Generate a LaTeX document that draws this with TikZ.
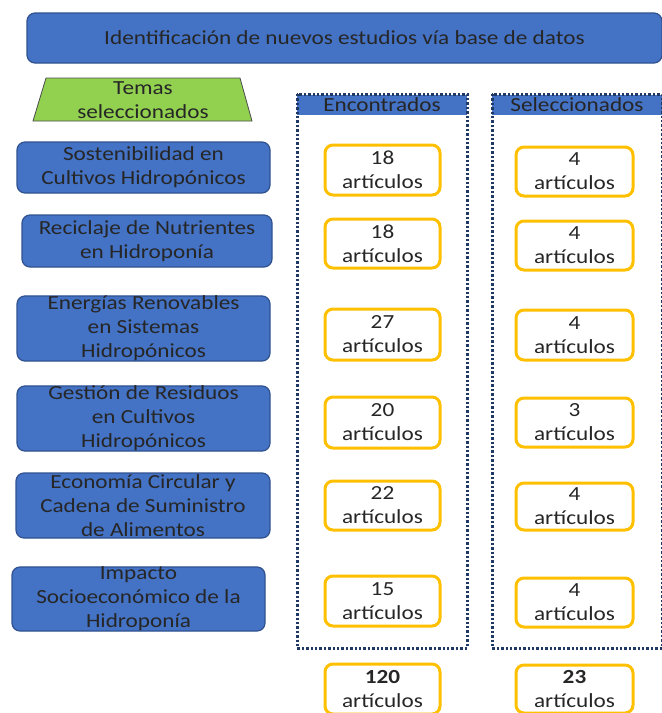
\documentclass[tikz,border=0pt]{standalone}
\usepackage{fontspec}
\setmainfont{Carlito}[FakeStretch=1.16]
\usetikzlibrary{shapes.geometric}
\definecolor{bl}{HTML}{4472C4}
\definecolor{bldk}{HTML}{2F528F}
\definecolor{gr}{HTML}{92D050}
\definecolor{yl}{HTML}{FFC000}
\definecolor{nv}{HTML}{1F3864}
\begin{document}
\begin{tikzpicture}[x=1pt,y=-1pt,
  txt/.style={font=\fontsize{20}{24}\selectfont, text=black!85, align=center},
  bluebox/.style={txt, draw=bldk, line width=1.2pt, fill=bl, rounded corners=8pt, inner sep=0pt},
  artbox/.style={txt, draw=yl, line width=3pt, fill=white, rounded corners=8pt, inner sep=0pt},
  frame/.style={draw=nv, line width=3pt, dash pattern=on 2.4pt off 2pt},
  head/.style={txt, fill=bl, inner sep=0pt}]
\useasboundingbox (0,0) rectangle (662,713);
% title
\node[bluebox, minimum width=635pt, minimum height=50pt] (title) at (344.5,38) {Identificación de nuevos estudios vía base de datos};
% trapezoid
\draw[fill=gr, draw=black!70, line width=0.8pt] (46,78) -- (240,78) -- (252,121) -- (33,121) -- cycle;
\node[txt] (temas) at (143,100) {Temas\\seleccionados};
% frames
\node[head, minimum width=170pt, minimum height=20pt] (henc) at (382,105) {Encontrados};
\node[head, minimum width=170pt, minimum height=20pt] (hsel) at (577,105) {Seleccionados};
\draw[frame] (297,94) rectangle (467,648);
\draw[frame] (492,94) rectangle (662,648);
% left boxes
\node[bluebox, minimum width=253pt, minimum height=51pt] (t1) at (143.5,167.5) {Sostenibilidad en\\Cultivos Hidropónicos};
\node[bluebox, minimum width=250pt, minimum height=52pt] (t2) at (147,241) {Reciclaje de Nutrientes\\en Hidroponía};
\node[bluebox, minimum width=253pt, minimum height=63pt] (t3) at (143.5,328.5) {Energías Renovables\\en Sistemas\\Hidropónicos};
\node[bluebox, minimum width=253pt, minimum height=63pt] (t4) at (143.5,418.5) {Gestión de Residuos\\en Cultivos\\Hidropónicos};
\node[bluebox, minimum width=254pt, minimum height=65pt] (t5) at (143,505.5) {Economía Circular y\\Cadena de Suministro\\de Alimentos};
\node[bluebox, minimum width=253pt, minimum height=64pt] (t6) at (138.5,599) {Impacto\\Socioeconómico de la\\Hidroponía};
% encontrados
\node[artbox, minimum width=115pt, minimum height=50pt] (e1) at (382.5,170) {18\\artículos};
\node[artbox, minimum width=115pt, minimum height=49pt] (e2) at (382.5,243.5) {18\\artículos};
\node[artbox, minimum width=115pt, minimum height=51pt] (e3) at (382.5,334.5) {27\\artículos};
\node[artbox, minimum width=115pt, minimum height=51pt] (e4) at (382.5,422.5) {20\\artículos};
\node[artbox, minimum width=115pt, minimum height=49pt] (e5) at (382.5,505.5) {22\\artículos};
\node[artbox, minimum width=115pt, minimum height=50pt] (e6) at (382.5,601) {15\\artículos};
\node[artbox, minimum width=115pt, minimum height=50pt] (et) at (382.5,689) {\textbf{120}\\artículos};
% seleccionados
\node[artbox, minimum width=117pt, minimum height=49pt] (s1) at (574.5,171.5) {4\\artículos};
\node[artbox, minimum width=117pt, minimum height=49pt] (s2) at (574.5,245.5) {4\\artículos};
\node[artbox, minimum width=117pt, minimum height=50pt] (s3) at (574.5,335) {4\\artículos};
\node[artbox, minimum width=117pt, minimum height=49pt] (s4) at (574.5,422.5) {3\\artículos};
\node[artbox, minimum width=117pt, minimum height=47pt] (s5) at (574.5,506.5) {4\\artículos};
\node[artbox, minimum width=117pt, minimum height=49pt] (s6) at (574.5,602.5) {4\\artículos};
\node[artbox, minimum width=117pt, minimum height=48pt] (st) at (574.5,689) {\textbf{23}\\artículos};
\end{tikzpicture}
\end{document}
